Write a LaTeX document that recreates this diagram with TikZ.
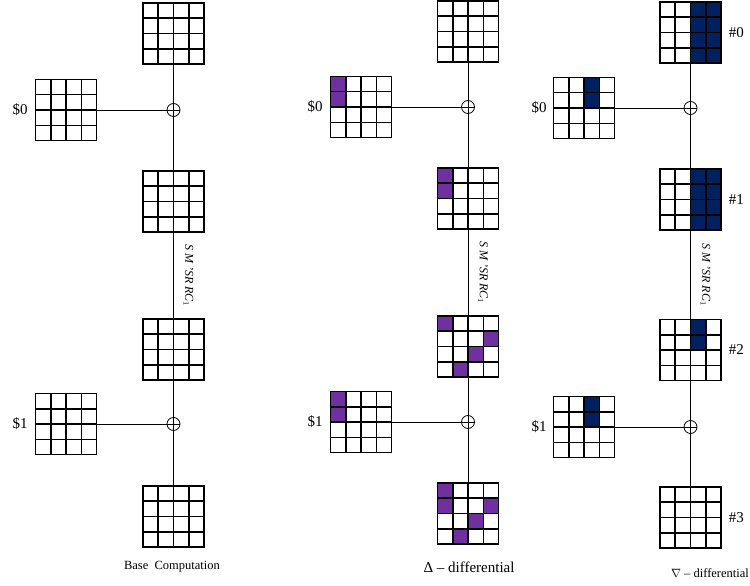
\documentclass[tikz,border=0pt]{standalone}
\usepackage{fontspec}
\setmainfont{Liberation Serif}
\usetikzlibrary{positioning,calc}
\definecolor{dpurple}{RGB}{112,48,160}
\definecolor{dnavy}{RGB}{0,32,96}
\newcommand{\cellw}{15.3}

\begin{document}
\begin{tikzpicture}[x=1pt,y=-1pt,
  state/.style={draw,line width=1.3pt,minimum size=61.2pt,inner sep=0pt,fill=white,
    path picture={
      \coordinate (nw) at (path picture bounding box.north west);
      \foreach \c/\r in {#1}
        \fill[hot] ($(nw)+(\c*\cellw,\r*\cellw)$) rectangle ++(\cellw,\cellw);
      \foreach \i in {1,2,3} {
        \draw[line width=1.6pt] ($(nw)+(\i*\cellw,0)$) -- ++(0,4*\cellw);
        \draw[line width=1.6pt] ($(nw)+(0,\i*\cellw)$) -- ++(4*\cellw,0);
      }}},
  state/.default={},
  hot/.style={fill=dpurple},
  xor/.style={circle,draw,line width=0.8pt,minimum size=13pt,inner sep=0pt,fill=white,
    path picture={\draw[line width=0.8pt]
      (path picture bounding box.north) -- (path picture bounding box.south)
      (path picture bounding box.west) -- (path picture bounding box.east);}},
  wire/.style={line width=0.8pt},
  lbl/.style={font=\fontsize{15}{18}\selectfont,inner sep=1pt},
  rnd/.style={font=\itshape\fontsize{12}{14}\selectfont,rotate=-90,inner sep=0pt}]
\useasboundingbox (0,0) rectangle (750,586);
% base computation
\node[state] (a1) at (173.5,33.5) {};
\node[xor] (ax1) at (173.5,110) {};
\node[state] (as0) at (66,110) {};
\node[state] (a2) at (173.5,201.5) {};
\node[state] (a3) at (173.5,349.5) {};
\node[xor] (ax2) at (173.5,424) {};
\node[state] (as1) at (66,424) {};
\node[state] (a4) at (173.5,516.5) {};
\node[lbl,left=6pt of as0] (ak0) {\$0};
\node[lbl,left=6pt of as1] (ak1) {\$1};
\node[rnd] (ar) at ($(a2.south)!0.5!(a3.north)+(15,0)$) {S M ’SR RC$_1$};
\node[font=\fontsize{12.5}{15}\selectfont] (acap) at (172,567) {Base~~Computation};
\draw[wire] (a1) -- (ax1) -- (a2) -- (a3) -- (ax2) -- (a4);
\draw[wire] (as0) -- (ax1);
\draw[wire] (as1) -- (ax2);
% delta differential
\node[state] (b1) at (468,31.5) {};
\node[xor] (bx1) at (468,107) {};
\node[state={0/0,0/1}] (bs0) at (361,107) {};
\node[state={0/0,0/1}] (b2) at (468,198.5) {};
\node[state={0/0,3/1,2/2,1/3}] (b3) at (468,346.5) {};
\node[xor] (bx2) at (468,422) {};
\node[state={0/0,0/1}] (bs1) at (361,422) {};
\node[state={0/0,0/1,3/1,2/2,1/3}] (b4) at (468,513.5) {};
\node[lbl,left=6pt of bs0] (bk0) {\$0};
\node[lbl,left=6pt of bs1] (bk1) {\$1};
\node[rnd] (br) at ($(b2.south)!0.5!(b3.north)+(15,0)$) {S M ’SR RC$_1$};
\node[font=\fontsize{15}{18}\selectfont] (bcap) at (469,567) {Δ – differential};
\draw[wire] (b1) -- (bx1) -- (b2) -- (b3) -- (bx2) -- (b4);
\draw[wire] (bs0) -- (bx1);
\draw[wire] (bs1) -- (bx2);
% nabla differential
\begin{scope}[hot/.style={fill=dnavy}]
\node[state={2/0,2/1,2/2,2/3,3/0,3/1,3/2,3/3}] (c1) at (690.5,32.5) {};
\node[xor] (cx1) at (690.5,108) {};
\node[state={2/0,2/1}] (cs0) at (584,108) {};
\node[state={2/0,2/1,2/2,2/3,3/0,3/1,3/2,3/3}] (c2) at (690.5,199.5) {};
\node[state={2/0,2/1}] (c3) at (690.5,350) {};
\node[xor] (cx2) at (690.5,427) {};
\node[state={2/0,2/1}] (cs1) at (584,427) {};
\node[state] (c4) at (690.5,517.5) {};
\end{scope}
\node[lbl,left=5pt of cs0] (ck0) {\$0};
\node[lbl,left=5pt of cs1] (ck1) {\$1};
\node[lbl,right=6pt of c1] (cn0) {\#0};
\node[lbl,right=6pt of c2] (cn1) {\#1};
\node[lbl,right=6pt of c3] (cn2) {\#2};
\node[lbl,right=6pt of c4] (cn3) {\#3};
\node[rnd] (cr) at ($(c2.south)!0.5!(c3.north)+(15,0)$) {S M ’SR RC$_1$};
\node[font=\fontsize{12.5}{15}\selectfont] (ccap) at (710,573) {$\nabla$ – differential};
\draw[wire] (c1) -- (cx1) -- (c2) -- (c3) -- (cx2) -- (c4);
\draw[wire] (cs0) -- (cx1);
\draw[wire] (cs1) -- (cx2);
\end{tikzpicture}
\end{document}
